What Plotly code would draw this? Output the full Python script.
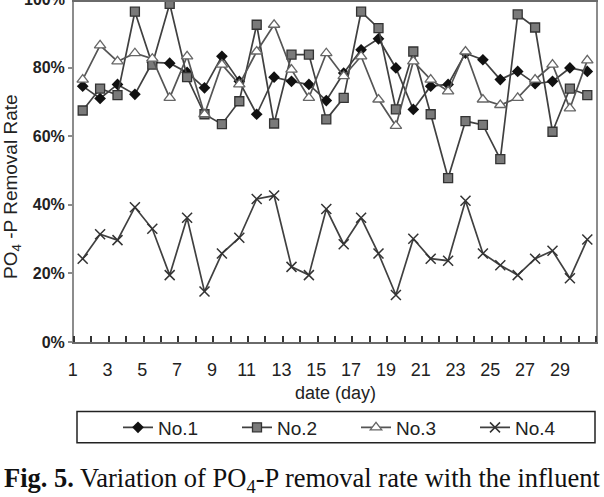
import plotly.graph_objects as go

# ---------------- data ----------------
days = list(range(1, 31))
no1 = [74.6, 71.0, 75.1, 72.2, 81.5, 81.3, 78.6, 74.1, 83.3, 76.0,
       66.4, 77.2, 76.0, 75.1, 70.4, 78.4, 85.2, 88.4, 79.9, 67.8,
       74.6, 75.1, 84.2, 82.3, 76.5, 78.9, 75.3, 76.0, 79.9, 78.9]
no2 = [67.5, 73.9, 72.0, 96.3, 80.9, 98.6, 77.2, 66.4, 63.5, 70.2,
       92.5, 63.7, 83.8, 83.8, 64.9, 71.2, 96.3, 91.5, 67.8, 84.7,
       66.4, 47.8, 64.4, 63.3, 53.3, 95.5, 91.7, 61.3, 73.9, 72.0]
no3 = [76.5, 86.5, 81.8, 84.2, 82.6, 71.2, 83.3, 66.4, 80.9, 75.1,
       84.7, 92.5, 79.4, 71.2, 84.2, 77.5, 83.3, 70.7, 63.0, 81.8,
       76.5, 73.1, 84.7, 70.7, 69.1, 71.2, 76.5, 80.9, 68.1, 82.1]
no4 = [24.3, 31.4, 29.7, 39.3, 33.0, 19.5, 36.2, 14.7, 25.8, 30.4,
       41.7, 42.7, 21.9, 19.5, 38.8, 28.5, 36.2, 25.8, 13.7, 30.1,
       24.3, 23.7, 41.2, 25.8, 22.4, 19.5, 24.3, 26.6, 18.6, 29.9]
series_names = ["No.1", "No.2", "No.3", "No.4"]
x_tick_days = list(range(1, 30, 2))
y_ticks = [0, 20, 40, 60, 80]
y_top_label = 100
x_title = "date (day)"
y_title = "PO<sub>4</sub> -P Removal Rate"
caption = "<b>Fig. 5.</b> Variation of PO<sub>4</sub>-P removal rate with the influent"

# ---------------- layout geometry ----------------
W, H = 604, 497
L, R, T, B = 74, 8, 0, 155
plot_w = W - L - R
plot_h = H - T - B
px_per_pct = 3.45
ymax = plot_h / px_per_pct


def pxx(px):
    return (px - L) / plot_w


def pxy(py):
    return (T + plot_h - py) / plot_h


FONT = "Liberation Sans, Arial, sans-serif"
LINE = "#404040"

fig = go.Figure()
fig.add_trace(go.Scatter(
    x=days, y=no1, name=series_names[0], mode="lines+markers",
    line=dict(color=LINE, width=1.7),
    marker=dict(symbol="diamond", size=9, color="#111111",
                line=dict(width=0))))
fig.add_trace(go.Scatter(
    x=days, y=no2, name=series_names[1], mode="lines+markers",
    line=dict(color=LINE, width=1.7),
    marker=dict(symbol="square", size=9, color="#7a7a7a",
                line=dict(width=1.3, color="#333333"))))
fig.add_trace(go.Scatter(
    x=days, y=no3, name=series_names[2], mode="lines+markers",
    line=dict(color="#555555", width=1.7),
    marker=dict(symbol="triangle-up", size=10, color="white",
                line=dict(width=1.3, color="#666666"))))
fig.add_trace(go.Scatter(
    x=days, y=no4, name=series_names[3], mode="lines+markers",
    line=dict(color=LINE, width=1.7),
    marker=dict(symbol="x-thin", size=10, color="#333333",
                line=dict(width=1.5, color="#333333"))))

boundaries = [d - 0.5 for d in days] + [days[-1] + 0.5]

fig.update_xaxes(
    range=[days[0] - 0.5, days[-1] + 0.5],
    showline=True, linecolor="#6a6a6a", linewidth=2, mirror=True,
    showgrid=False, zeroline=False,
    tickmode="array", tickvals=x_tick_days,
    ticktext=[str(d) for d in x_tick_days],
    ticks="", ticklabelshift=-10, ticklabelstandoff=10,
    tickfont=dict(family=FONT, size=18, color="#222222"),
    minor=dict(tickmode="array", tickvals=boundaries, ticks="inside",
               ticklen=6, tickwidth=1.5, tickcolor="#333333", showgrid=False),
)
fig.update_yaxes(
    range=[0, ymax],
    showline=True, linecolor="#8c8c8c", linewidth=2, mirror=True,
    showgrid=False, zeroline=False,
    tickmode="array", tickvals=y_ticks,
    ticktext=[f"{v}%" for v in y_ticks],
    ticks="outside", ticklen=4, tickwidth=1.5, tickcolor="#8c8c8c",
    tickfont=dict(family=FONT, size=16, color="#222222", weight="bold"),
)

annotations = [
    dict(text=f"{y_top_label}%", xref="paper", yref="paper",
         x=pxx(67), y=y_top_label / ymax, xanchor="right", yanchor="middle",
         showarrow=False,
         font=dict(family=FONT, size=16, color="#222222", weight="bold")),
    dict(text=y_title, xref="paper", yref="paper", x=pxx(12), y=pxy(186),
         xanchor="center", yanchor="middle", textangle=-90, showarrow=False,
         font=dict(family=FONT, size=19, color="#222222")),
    dict(text=x_title, xref="paper", yref="paper", x=pxx(335), y=pxy(393),
         xanchor="center", yanchor="middle", showarrow=False,
         font=dict(family=FONT, size=18, color="#222222")),
    dict(text=caption, xref="paper", yref="paper", x=pxx(302), y=pxy(481),
         xanchor="center", yanchor="middle", showarrow=False,
         font=dict(family="Liberation Serif, Times New Roman, serif",
                   size=26.5, color="#111111")),
]

shapes = [
    dict(type="rect", xref="paper", yref="paper",
         x0=pxx(77), x1=pxx(595), y0=pxy(443.3), y1=pxy(412),
         line=dict(color="#222222", width=1.5), fillcolor="rgba(0,0,0,0)"),
]

fig.update_layout(
    width=W, height=H,
    margin=dict(l=L, r=R, t=T, b=B, pad=0),
    paper_bgcolor="white", plot_bgcolor="white",
    showlegend=True,
    legend=dict(orientation="h", x=pxx(118), xanchor="left",
                y=pxy(428), yanchor="middle",
                entrywidth=74, entrywidthmode="pixels",
                font=dict(family=FONT, size=19, color="#222222"),
                bgcolor="rgba(0,0,0,0)", borderwidth=0, itemwidth=30),
    annotations=annotations,
    shapes=shapes,
)

fig.write_html("out.html")
